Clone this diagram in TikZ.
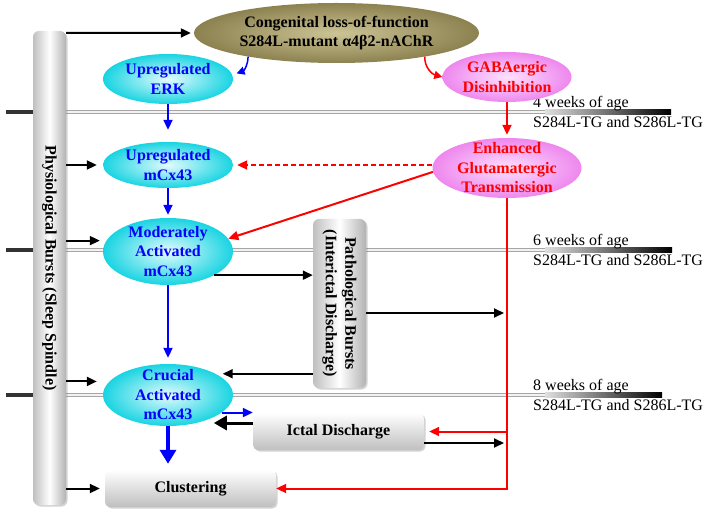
\documentclass[tikz,border=0pt]{standalone}
\usepackage{fontspec}
\setmainfont{Liberation Serif}
\usepackage{graphicx}
\usetikzlibrary{shapes,arrows.meta,positioning,shadows}

\definecolor{cyanout}{RGB}{25,212,226}
\definecolor{cyanin}{RGB}{228,251,253}
\definecolor{pinkout}{RGB}{238,135,238}
\definecolor{pinkin}{RGB}{253,225,253}
\definecolor{oliveout}{RGB}{140,130,80}
\definecolor{olivein}{RGB}{205,196,150}

\begin{document}
\begin{tikzpicture}[x=1pt, y=-1pt, node distance=86pt, font=\bfseries\fontsize{16}{19.5}\selectfont]
        % Define styles
        \tikzstyle{cyanell} = [ellipse, shading=radial, inner color=cyanin, outer color=cyanout, text=blue, align=center, inner xsep=0pt, inner ysep=-12pt, minimum width=130pt]
        \tikzstyle{pinkell} = [ellipse, shading=radial, inner color=pinkin, outer color=pinkout, text=red, align=center, inner xsep=0pt, inner ysep=-12pt]
        \tikzstyle{oliveell} = [ellipse, shading=radial, inner color=olivein, outer color=oliveout, align=center, inner xsep=0pt, inner ysep=-12pt]
        \tikzstyle{graybox} = [rectangle, rounded corners=5pt, top color=white, bottom color=gray!50, drop shadow={shadow xshift=1.5pt, shadow yshift=-1.5pt, opacity=0.35}]
        \tikzstyle{tubebox} = [rectangle, rounded corners=6pt, left color=gray!50, right color=gray!60, middle color=white, drop shadow={shadow xshift=1.5pt, shadow yshift=-1.5pt, opacity=0.35}]
        \tikzstyle{agetext} = [font=\mdseries\fontsize{16}{19.5}\selectfont, align=left, anchor=west, inner sep=0pt]
        \tikzstyle{blackarrow} = [line width=2pt, -{Triangle[length=10pt,width=9pt]}]
        \tikzstyle{bigarrow} = [line width=3pt, -{Triangle[length=13pt,width=14pt]}]
        \tikzstyle{bluearrow} = [blackarrow, blue]
        \tikzstyle{bigbluearrow} = [line width=3.4pt, blue, -{Triangle[length=14pt,width=16pt]}]
        \tikzstyle{redarrow} = [blackarrow, red]
        \tikzstyle{reddash} = [redarrow, dashed, dash pattern=on 5pt off 3pt]
        \tikzstyle{curvearrow} = [line width=1.5pt, -{Triangle[length=8pt,width=8pt]}]

        \useasboundingbox (0,0) rectangle (709,510);

        % Timelines
        \foreach \y/\wk/\xe in {112/4/671, 250/6/672, 395/8/662} {
          \draw[line width=4pt, gray!70] (6,\y) -- (\xe,\y);
          \draw[line width=1.5pt, gray!10] (40,\y) -- (\xe,\y);
          \draw[line width=4.5pt, black!80] (6,\y) -- (36,\y);
          \shade[left color=gray!25, right color=black] (545,\y-2.5) rectangle (\xe,\y+2.5);
          \node[agetext] (age\wk) at (533,\y) {\wk{} weeks of age\\S284L-TG and S286L-TG};
        }

        % Nodes
        \node [tubebox, minimum width=33pt, minimum height=474pt] (bar) at (49.5,268) {\rotatebox{-90}{Physiological Bursts (Sleep Spindle)}};
        \node [oliveell, minimum width=285pt, minimum height=60pt] (congen) at (336.5,33) {Congenital loss-of-function\\S284L-mutant α4β2-nAChR};
        \node [cyanell, minimum height=50pt] (erk) at (168,79) {Upregulated\\ERK};
        \node [cyanell, minimum height=46pt, below of=erk] (upmcx) {Upregulated\\mCx43};
        \node [cyanell, minimum height=67pt, below of=upmcx, node distance=86.5pt] (modmcx) {Moderately\\Activated\\mCx43};
        \node [cyanell, minimum height=62pt, below of=modmcx, node distance=143.5pt] (crucial) {Crucial\\Activated\\mCx43};
        \node [pinkell, minimum width=129pt, minimum height=50pt] (gaba) at (507,77) {GABAergic\\Disinhibition};
        \node [pinkell, minimum width=149pt, minimum height=60pt, below of=gaba, node distance=91pt] (enh) {Enhanced\\Glutamatergic\\Transmission};
        \node [tubebox, minimum width=53pt, minimum height=169pt] (path) at (339.5,303.5) {\rotatebox{-90}{\begin{tabular}{@{}c@{}}Pathological Bursts\\(Interictal Discharge)\end{tabular}}};
        \node [graybox, minimum width=171pt, minimum height=37pt] (ictal) at (338.5,431.5) {Ictal Discharge};
        \node [graybox, minimum width=171pt, minimum height=37pt] (clust) at (190.5,488.5) {Clustering};

        % Arrows from the physiological bursts
        \draw [blackarrow, shorten >=3pt] ([yshift=-2pt]bar.north east) -- (congen.west);
        \draw [blackarrow, shorten >=6pt] (bar.east |- upmcx.west) -- (upmcx.west);
        \draw [blackarrow, shorten >=3pt] (bar.east |- modmcx.170) -- (modmcx.west |- modmcx.170);
        \draw [blackarrow, shorten >=6pt] (bar.east |- crucial.167) -- (crucial.west |- crucial.167);
        \draw [blackarrow, shorten >=5pt] (bar.east |- clust.west) -- (clust.west);

        % mCx43 pathway
        \draw [curvearrow, blue] (congen.195) to[out=-90, in=20] ([xshift=5pt]erk.5);
        \draw [bluearrow, shorten >=12pt] (erk) -- (upmcx);
        \draw [bluearrow, shorten >=3pt] (upmcx) -- (modmcx);
        \draw [bluearrow, shorten >=6pt] (modmcx) -- (crucial);
        \draw [bluearrow] (crucial.-18) -- (crucial.-18 -| ictal.west);
        \draw [bigbluearrow, shorten >=6pt] (crucial.south) -- (crucial.south |- clust.north);

        % Glutamatergic pathway
        \draw [curvearrow, red] (congen.345) to[out=-95, in=165] (gaba.west);
        \draw [redarrow, shorten >=3pt] (gaba) -- (enh);
        \draw [reddash, shorten >=4pt] (enh.west |- upmcx.east) -- (upmcx.east);
        \draw [redarrow] (enh.183) -- (modmcx.12);
        \coordinate (rbot) at (enh.south |- clust.east);
        \draw [redarrow] (enh.south) -- (rbot) -- (clust.east);
        \draw [redarrow, shorten >=5pt] (ictal.east -| enh.south) -- (ictal.east);

        % Bursts and discharges
        \draw [blackarrow] (modmcx.-27) -- (modmcx.-27 -| path.west);
        \draw [blackarrow, shorten >=3pt] ([yshift=-9.5pt]path.east) -- ([yshift=-9.5pt]path.east -| enh.south);
        \draw [blackarrow, shorten >=7pt] (path.west |- crucial.24) -- (crucial.24);
        \draw [blackarrow, shorten >=3pt] ([yshift=-11.5pt]ictal.east) -- ([yshift=-11.5pt]ictal.east -| enh.south);
        \draw [bigarrow, shorten >=9pt] ([yshift=8.5pt]ictal.west) -- ([yshift=8.5pt]ictal.west -| crucial.-35);
\end{tikzpicture}
\end{document}
